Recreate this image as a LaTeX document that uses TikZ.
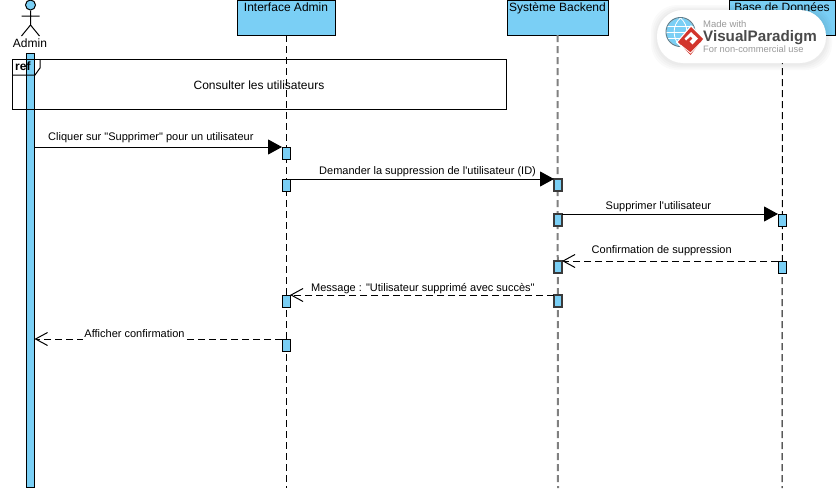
\documentclass[tikz,border=0pt]{standalone}
\usepackage{fontspec}
\usetikzlibrary{arrows.meta,calc}
\newfontfamily\lab{Liberation Sans}
\definecolor{fillblue}{HTML}{7ACFF5}
\definecolor{wmgrey}{HTML}{9A9A9A}
\definecolor{wmdark}{HTML}{4A4A4A}
\definecolor{wmred}{HTML}{D2352C}
\definecolor{greyline}{HTML}{808080}
\definecolor{darkedge}{HTML}{3A3A3A}
\tikzset{
  x=1pt,y=-1pt,
  head/.style={draw=black,fill=fillblue,line width=1pt,minimum height=35pt,inner sep=0pt,outer sep=0pt},
  headtxt/.style={font=\lab\fontsize{12}{14}\selectfont,inner sep=0pt,anchor=base},
  act/.style={draw=black,fill=fillblue,line width=1pt,minimum width=8pt,minimum height=12pt,inner sep=0pt,outer sep=0pt},
  actg/.style={act,draw=darkedge,line width=1.2pt},
  life/.style={draw=black,line width=1pt,dash pattern=on 7pt off 4pt},
  lifeg/.style={draw=greyline,line width=2pt,dash pattern=on 7pt off 4pt},
  call/.style={draw=black,line width=1pt,-{Triangle[length=14pt,width=15pt,fill=black]},shorten >=0pt},
  reply/.style={draw=black,line width=1pt,dash pattern=on 7pt off 4pt,-{Straight Barb[length=12pt,width=13pt,line width=1pt]}},
  msglab/.style={font=\lab\fontsize{11}{13}\selectfont,inner sep=0pt,anchor=base west},
  wmtxt/.style={inner sep=0pt,anchor=base west},
}
\begin{document}
\begin{tikzpicture}
\useasboundingbox (0,0) rectangle (836,488);
% lifeline heads
\node[head,minimum width=98pt] (ia) at (286,17.5) {};
\node[head,minimum width=101pt] (sb) at (557.5,17.5) {};
\node[head,minimum width=106pt] (db) at (782.5,17.5) {};
\node[headtxt] (iat) at (286,11) {Interface Admin};
\node[headtxt] (sbt) at (557.5,11) {Système Backend};
\node[headtxt] (dbt) at (782,11) {Base de Données};
\coordinate (iae) at (286,488);
\coordinate (sbe) at (558,488);
\coordinate (dbe) at (782,488);
\draw[life] (ia.south) -- (iae);
\draw[lifeg] (sb.south) -- (sbe);
\draw[life] (db.south) -- (dbe);
% actor
\node[circle,draw=black,fill=fillblue,line width=1pt,minimum size=10pt,inner sep=0pt] (ah) at (30.5,5) {};
\coordinate (abody) at (30.5,25);
\coordinate (aarml) at (21.5,16);
\coordinate (aarmr) at (39.5,16);
\coordinate (alegl) at (21.5,36);
\coordinate (alegr) at (39.5,36);
\draw[line width=1pt] (ah.south) -- (abody) (aarml) -- (aarmr) (alegl) -- (abody) -- (alegr);
\node[headtxt] (at) at (30,47) {Admin};
\node[act,minimum height=434pt] (aa) at (30.5,270.5) {};
% ref frame
\node[draw=black,line width=1pt,fill=none,minimum width=494pt,minimum height=50pt,inner sep=0pt] (ref) at (259.5,84) {};
\coordinate (tabr) at (40,59);
\coordinate (tabm) at (40,68);
\coordinate (tabb) at (35,75);
\coordinate (tabl) at (12.5,75);
\draw[line width=1pt] (tabr) -- (tabm) -- (tabb) -- (tabl);
\node[msglab,font=\lab\bfseries\fontsize{12}{14}\selectfont] (reft) at (15,70) {ref};
\node[font=\lab\fontsize{12}{14}\selectfont,inner sep=0pt] (refl) at (259,85) {Consulter les utilisateurs};
% activations
\node[act] (i1) at (286,153) {};
\node[act] (i2) at (286,185) {};
\node[act] (i3) at (286,301) {};
\node[act] (i4) at (286,345) {};
\node[actg] (s1) at (558,185) {};
\node[actg] (s2) at (558,220) {};
\node[actg] (s3) at (558,267) {};
\node[actg] (s4) at (558,301) {};
\node[act] (d1) at (782,220) {};
\node[act] (d2) at (782,267) {};
% messages
\draw[call] (aa.east |- i1.north) -- (i1.north west);
\draw[call] (i2.north east) -- (s1.north west);
\draw[call] (s2.north east) -- (d1.north west);
\draw[reply] (d2.north west) -- (s3.north east);
\draw[reply] (s4.north west) -- (i3.north east);
\draw[reply] (i4.north west) -- (aa.east |- i4.north);
\node[msglab] (m1) at (48,140) {Cliquer sur "Supprimer" pour un utilisateur};
\node[msglab] (m2) at (319,174.5) {Demander la suppression de l'utilisateur (ID)};
\node[msglab] (m3) at (605.5,209.5) {Supprimer l'utilisateur};
\node[msglab] (m4) at (591.5,253) {Confirmation de suppression};
\node[msglab] (m5) at (311,291.5) {Message : "Utilisateur supprimé avec succès"};
\node[msglab,fill=white,inner xsep=1.5pt,text depth=3pt,anchor=base] (m6) at (134.5,337.5) {Afficher confirmation};
% watermark
\foreach \g in {6,4.5,3,1.5}{
  \fill[black,opacity=0.018,rounded corners=26pt] (657-\g,10-\g+1) rectangle (826+\g,63+\g+1);
}
\fill[white,rounded corners=26pt] (657,10) rectangle (826,63);
\fill[fillblue] (680.5,32) circle (14);
\draw[wmdark!60!fillblue,line width=1pt] (680.5,32) circle (14.5);
\begin{scope}
\clip (680.5,32) circle (14);
\draw[white,line width=0.8pt] (666,26) -- (696,26) (666,32) -- (696,32) (666,38) -- (696,38);
\draw[white,line width=0.8pt] (680.5,18) .. controls (672,25) and (672,39) .. (680.5,46);
\draw[white,line width=0.8pt] (680.5,18) .. controls (689,25) and (689,39) .. (680.5,46);
\end{scope}
\fill[white] (691,25) -- (705,39.5) -- (690.5,57) -- (676,42.5) -- cycle;
\fill[wmred] (691,27) -- (703,39) -- (690.5,55) -- (678,42) -- cycle;
\draw[white,line width=0.8pt] (680.5,45) -- (690.5,53) -- (700.5,43);
\fill[white] (691,32) -- (698,38.5) -- (692.5,44.5) -- (689.5,41.5) -- (692.5,38.5) -- (690.5,36.5) -- (686,40.5) -- (684.5,38.5) -- cycle;
\node[wmtxt,text=wmgrey,font=\lab\fontsize{9.5}{11}\selectfont] (w1) at (703,27) {Made with};
\node[wmtxt,text=wmdark,font=\lab\bfseries\fontsize{15.2}{18}\selectfont] (w2) at (703,41.5) {VisualParadigm};
\node[wmtxt,text=wmgrey,font=\lab\fontsize{9.3}{11}\selectfont] (w3) at (703,52.5) {For non-commercial use};
\end{tikzpicture}
\end{document}
